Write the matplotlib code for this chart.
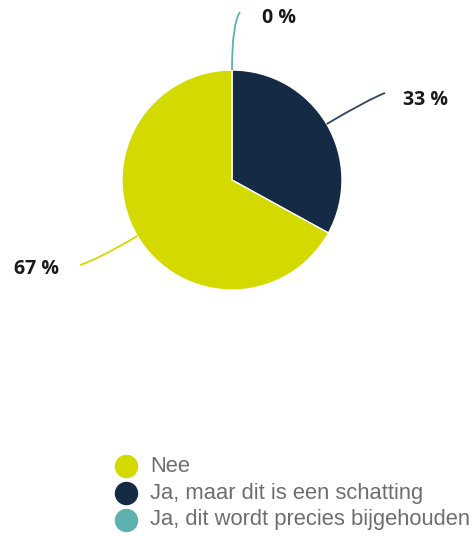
import numpy as np
import matplotlib.pyplot as plt
from matplotlib.path import Path
from matplotlib.patches import PathPatch

# data
categories = ['Nee', 'Ja, maar dit is een schatting', 'Ja, dit wordt precies bijgehouden']
values = [67, 33, 0]
colours = ['#D4D900', '#142A45', '#5DB1AF']

W, H = 475, 536
fig = plt.figure(figsize=(W / 100, H / 100), dpi=100)
ax = fig.add_axes([0, 0, 1, 1])

cx, cy, r = 232, H - 180, 110

# pie goes clockwise from the top: precies, schatting, nee
order = [2, 1, 0]
pie_vals = [values[i] for i in order]
pie_cols = [colours[i] for i in order]
wedges, _ = ax.pie(pie_vals, colors=pie_cols, startangle=90, counterclock=False,
                   center=(cx, cy), radius=r, frame=True,
                   wedgeprops=dict(edgecolor='white', linewidth=1))
ax.set_xlim(0, W)
ax.set_ylim(0, H)
ax.set_aspect('equal')
ax.axis('off')

# labels with curved leader lines: (end of line, text pos) in pixels from top-left
label_spec = {
    2: ((240, 12), (262, 18), 'left'),
    1: ((385, 93), (403, 100), 'left'),
    0: ((80, 265), (59, 269), 'right'),
}
line_cols = {0: '#D4D900', 1: '#2E4663', 2: '#5DB1AF'}
total = float(sum(pie_vals))
start = 90.0
for w, idx in zip(wedges, order):
    frac = values[idx] / total
    mid = np.deg2rad(start - frac * 360 / 2)
    start -= frac * 360
    sx, sy = cx + r * np.cos(mid), cy + r * np.sin(mid)
    (ex, ey), (tx, ty), ha = label_spec[idx]
    ey = H - ey
    # control point along the radial direction, near the height of the end point
    dx, dy = np.cos(mid), np.sin(mid)
    k = (ey - sy) / dy * 0.8
    ctrl = (sx + k * dx, sy + k * dy)
    path = Path([(sx, sy), ctrl, (ex, ey)], [Path.MOVETO, Path.CURVE3, Path.CURVE3])
    ax.add_patch(PathPatch(path, facecolor='none', edgecolor=line_cols[idx], lw=1.3))
    ax.text(tx, H - ty, '%d %%' % values[idx], ha=ha, va='center',
            fontsize=14, fontweight='bold', family='Open Sans', color='#1a1a1a')

# legend
for i, (name, c) in enumerate(zip(categories, colours)):
    y = H - (466 + 27 * i)
    ax.scatter([126], [y], s=(22 * 0.72) ** 2, color=c, zorder=3)
    ax.text(150, y, name, ha='left', va='center', fontsize=15.8,
            family='Liberation Sans', color='#6e6e6e')

fig.savefig('out.png', dpi=100)
